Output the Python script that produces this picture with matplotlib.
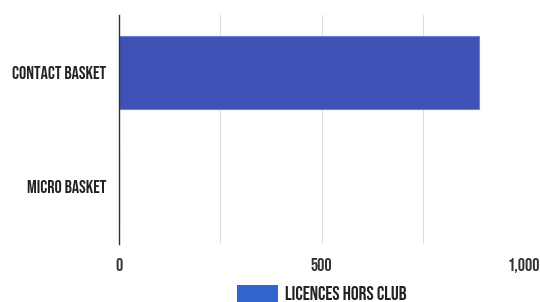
import matplotlib
matplotlib.use("Agg")
import matplotlib.pyplot as plt
from matplotlib.patches import Patch

categories = ["CONTACT BASKET", "MICRO BASKET"]
values = [889, 0]
series_name = "LICENCES HORS CLUB"
xticks = [0, 500, 1000]
xtick_labels = ["0", "500", "1,000"]

plt.rcParams["font.family"] = ["Bebas Neue", "League Gothic", "Oswald", "Barlow Condensed", "DejaVu Sans"]

fig = plt.figure(figsize=(5.4, 3.02), dpi=100)
ax = fig.add_axes([0.2204, 0.192, 0.75, 0.758])

ypos = list(range(len(categories)))
ax.barh(ypos, values, height=0.64, color="#3f51b5", edgecolor="#7080d8", linewidth=0.8, zorder=3)
ax.set_ylim(1.5, -0.5)
ax.set_xlim(0, 1000)

ax.set_yticks(ypos)
ax.set_yticklabels(categories, fontsize=13, color="#222222")
ax.set_xticks(xticks)
ax.set_xticklabels(xtick_labels, fontsize=13, color="#333333")
ax.set_xticks([250, 750], minor=True)
ax.tick_params(axis="both", which="both", length=0)
ax.tick_params(axis="y", pad=9)
ax.tick_params(axis="x", pad=10)
ax.grid(axis="x", which="both", color="#dddddd", linewidth=0.8, zorder=0)

for s in ["top", "right", "bottom"]:
    ax.spines[s].set_visible(False)
ax.spines["left"].set_color("#333333")
ax.spines["left"].set_linewidth(1.0)
ax.spines["left"].set_zorder(4)

# legend sits under the plot area, centred on the axes, partly cut at the bottom
leg = fig.legend(handles=[Patch(facecolor="#3366cc", label=series_name)],
                 loc="center", bbox_to_anchor=(0.596, 0.028), frameon=False,
                 handlelength=2.06, handleheight=1.0, handletextpad=0.36,
                 borderpad=0, prop={"size": 14})
for t in leg.get_texts():
    t.set_color("#222222")

fig.savefig("out.png", dpi=100)
